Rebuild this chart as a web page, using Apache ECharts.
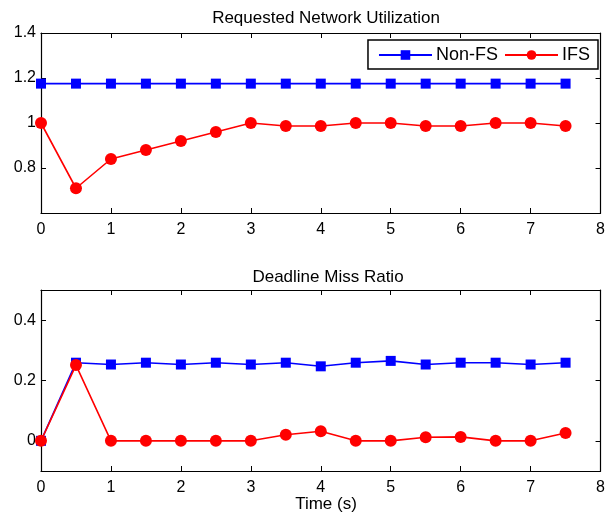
<!doctype html>
<html>
<head>
<meta charset="utf-8">
<title></title>
<style>
  body{margin:0;background:#fff}
  #chart{width:608px;height:521px}
</style>
</head>
<body>
<div id="chart"></div>
<script src="https://cdn.jsdelivr.net/npm/echarts@6/dist/echarts.min.js"></script>
<script>
var times = [0,0.5,1,1.5,2,2.5,3,3.5,4,4.5,5,5.5,6,6.5,7,7.5];
var utilNonFS = [1.175,1.175,1.175,1.175,1.175,1.175,1.175,1.175,1.175,1.175,1.175,1.175,1.175,1.175,1.175,1.175];
var utilIFS = [1.0,0.71,0.84,0.88,0.92,0.96,1.0,0.987,0.987,1.0,1.0,0.987,0.987,1.0,1.0,0.987];
var missNonFS = [0,0.259,0.253,0.259,0.253,0.259,0.253,0.259,0.247,0.259,0.265,0.253,0.259,0.259,0.253,0.259];
var missIFS = [0,0.251,0,0,0,0,0,0.02,0.032,0,0,0.012,0.013,0,0,0.026];
var xTicks = [0,1,2,3,4,5,6,7,8];
var utilTicks = [0.8,1,1.2,1.4];
var missTicks = [0,0.2,0.4];

function pairs(ys){ return times.map(function(t,i){ return [t, ys[i]]; }); }

var font = 'Liberation Sans, Arial, sans-serif';
var lineStyleAx = { show: true, onZero: false, lineStyle: { color: '#000', width: 1.2 } };

function xAx(grid, pos, showLabel){
    return {
        type: 'value', gridIndex: grid, position: pos, min: 0, max: 8,
        axisLine: lineStyleAx,
        axisTick: { show: true, inside: true, length: 5, customValues: xTicks, lineStyle: { color: '#000' } },
        splitLine: { show: false },
        axisLabel: { show: showLabel, customValues: xTicks, color: '#000', fontFamily: font, fontSize: 16, margin: 9 }
    };
}
function yAx(grid, pos, min, max, ticks, showLabel){
    return {
        type: 'value', gridIndex: grid, position: pos, min: min, max: max,
        axisLine: lineStyleAx,
        axisTick: { show: true, inside: true, length: 5, customValues: ticks, lineStyle: { color: '#000' } },
        splitLine: { show: false },
        axisLabel: {
            show: showLabel, customValues: ticks, color: '#000', fontFamily: font, fontSize: 16, margin: 5,
            formatter: function(v){ return String(Math.round(v*10)/10); }
        }
    };
}

var titleStyle = { fontFamily: font, fontSize: 17, fontWeight: 'normal', color: '#000' };

var chart = echarts.init(document.getElementById('chart'));
chart.setOption({
    animation: false,
    title: [
        { text: 'Requested Network Utilization', left: 321, top: 5, textAlign: 'center', textStyle: titleStyle },
        { text: 'Deadline Miss Ratio', left: 323, top: 264, textAlign: 'center', textStyle: titleStyle },
        { text: 'Time (s)', left: 321, top: 491, textAlign: 'center', textStyle: titleStyle }
    ],
    legend: {
        data: ['Non-FS', 'IFS'],
        right: 10, top: 40,
        itemWidth: 53, itemHeight: 12, itemGap: 6,
        padding: [6, 8, 5, 10],
        borderColor: '#000', borderWidth: 1.5, borderRadius: 0,
        backgroundColor: '#fff',
        textStyle: { fontFamily: font, fontSize: 18, color: '#000', padding: [0, 0, 0, -1] }
    },
    grid: [
        { left: 41, right: 6, top: 33, height: 180 },
        { left: 41, right: 6, top: 290, height: 181 }
    ],
    xAxis: [
        xAx(0, 'bottom', true), xAx(0, 'top', false),
        xAx(1, 'bottom', true), xAx(1, 'top', false)
    ],
    yAxis: [
        yAx(0, 'left', 0.6, 1.4, utilTicks, true), yAx(0, 'right', 0.6, 1.4, utilTicks, false),
        yAx(1, 'left', -0.1, 0.5, missTicks, true), yAx(1, 'right', -0.1, 0.5, missTicks, false)
    ],
    series: [
        { name: 'Non-FS', type: 'line', xAxisIndex: 0, yAxisIndex: 0, data: pairs(utilNonFS),
          symbol: 'rect', symbolSize: 10, lineStyle: { color: '#0000ff', width: 1.6 },
          itemStyle: { color: '#0000ff' } },
        { name: 'IFS', type: 'line', xAxisIndex: 0, yAxisIndex: 0, data: pairs(utilIFS),
          symbol: 'circle', symbolSize: 12, lineStyle: { color: '#ff0000', width: 1.6 },
          itemStyle: { color: '#ff0000' } },
        { name: 'Non-FS', type: 'line', xAxisIndex: 2, yAxisIndex: 2, data: pairs(missNonFS),
          symbol: 'rect', symbolSize: 10, lineStyle: { color: '#0000ff', width: 1.6 },
          itemStyle: { color: '#0000ff' } },
        { name: 'IFS', type: 'line', xAxisIndex: 2, yAxisIndex: 2, data: pairs(missIFS),
          symbol: 'circle', symbolSize: 12, lineStyle: { color: '#ff0000', width: 1.6 },
          itemStyle: { color: '#ff0000' } }
    ]
});
</script>
</body>
</html>
